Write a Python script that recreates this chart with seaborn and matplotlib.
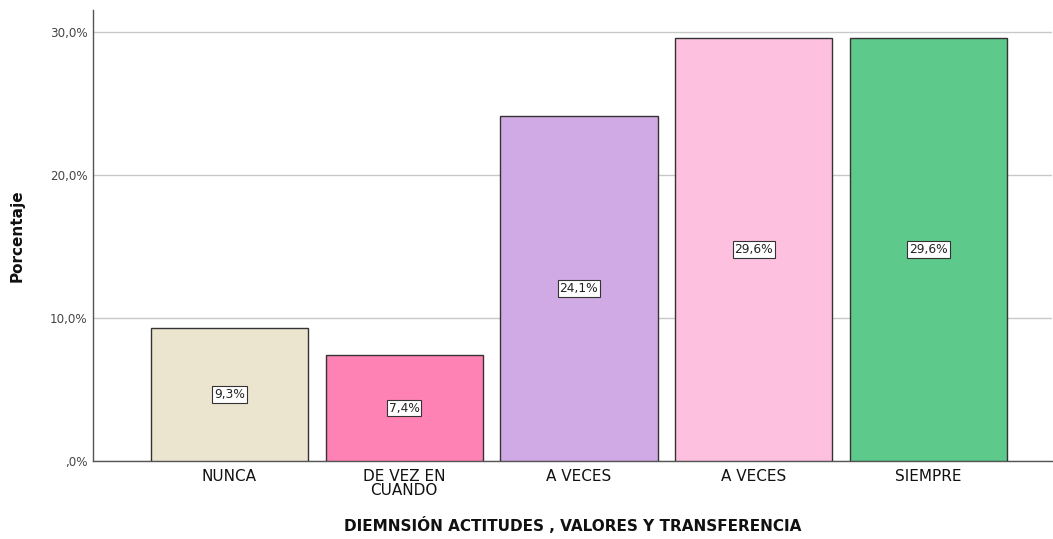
import matplotlib
matplotlib.use("Agg")
import matplotlib.pyplot as plt
import seaborn as sns
import pandas as pd

categories = ["NUNCA", "DE VEZ EN\nCUANDO", "A VECES", "A VECES", "SIEMPRE"]
values = [9.3, 7.4, 24.1, 29.6, 29.6]
colors = ["#EBE4CF", "#FF82B4", "#D0AAE4", "#FDC0DF", "#5DC98A"]
yticks = [0, 10, 20, 30]
ytick_labels = [",0%", "10,0%", "20,0%", "30,0%"]

sns.set_theme(style="white")
plt.rcParams['font.family'] = ['DejaVu Sans']

df = pd.DataFrame({"pos": [str(i) for i in range(len(values))], "val": values})

fig = plt.figure(figsize=(10.53, 5.39), dpi=100)
ax = fig.add_axes([0.0883, 0.1447, 0.9107, 0.8367])

sns.barplot(data=df, x="pos", y="val", hue="pos", palette=colors, legend=False,
            saturation=1, width=0.9, edgecolor="#333333", linewidth=1.0, ax=ax, zorder=3)

for i, v in enumerate(values):
    ax.text(i, v / 2, f"{v:.1f}%".replace(".", ","), ha="center", va="center",
            fontsize=8.8, color="#222222", zorder=5,
            bbox=dict(boxstyle="square,pad=0.15", facecolor="white", edgecolor="#333333", linewidth=0.8))

ax.set_xlim(-0.781, 4.707)
ax.set_ylim(0, 31.54)
ax.set_yticks(yticks)
ax.set_yticklabels(ytick_labels, fontsize=8.6, color="#444444")
ax.set_xticks(range(len(categories)))
ax.set_xticklabels(categories, fontsize=11, color="#111111", linespacing=0.85)
ax.tick_params(axis="x", length=0, pad=6)
ax.tick_params(axis="y", length=0, pad=4)
ax.yaxis.grid(True, color="#C8C8C8", linewidth=1.0, zorder=0)
ax.set_axisbelow(True)
for s in ["top", "right"]:
    ax.spines[s].set_visible(False)
for s in ["left", "bottom"]:
    ax.spines[s].set_color("#555555")
    ax.spines[s].set_linewidth(1.0)

ax.set_xlabel("DIEMNSIÓN ACTITUDES , VALORES Y TRANSFERENCIA", fontsize=11, fontweight="bold",
              color="#111111", labelpad=14)
ax.set_ylabel("Porcentaje", fontsize=11, fontweight="bold", color="#111111")
ax.yaxis.set_label_coords(-0.071, 0.50)

fig.savefig("out.png", dpi=100)
